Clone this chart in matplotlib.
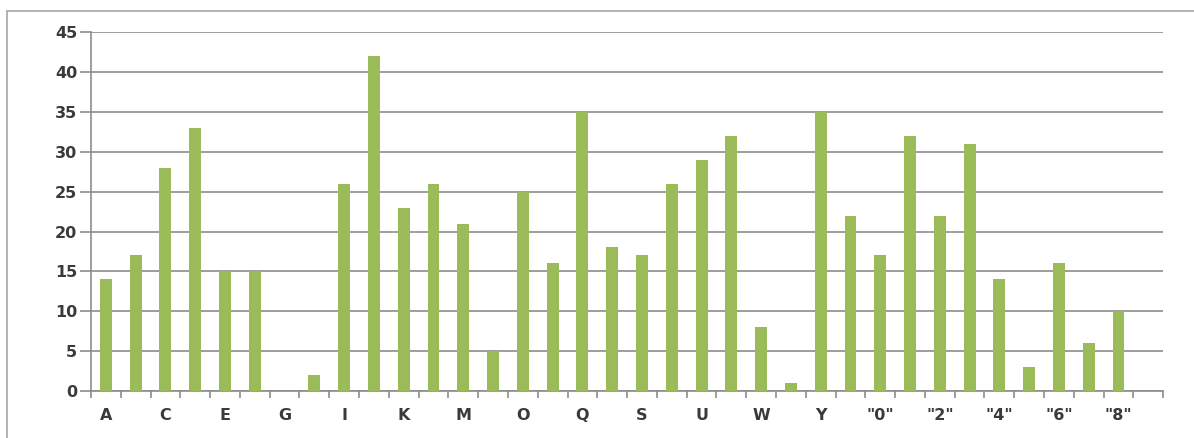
import numpy as np
import matplotlib
matplotlib.use("Agg")
import matplotlib.pyplot as plt
from matplotlib.patches import Rectangle

# categories: A-Z then "0"-"9"
categories = [chr(c) for c in range(ord("A"), ord("Z") + 1)] + ['"%d"' % d for d in range(10)]
values = [14, 17, 28, 33, 15, 15, 0, 2, 26, 42, 23, 26, 21, 5, 25, 16, 35, 18,
          17, 26, 29, 32, 8, 1, 35, 22, 17, 32, 22, 31, 14, 3, 16, 6, 10, 0]
y_ticks = [0, 5, 10, 15, 20, 25, 30, 35, 40, 45]

fig = plt.figure(figsize=(11.94, 4.38), dpi=100)
ax = fig.add_axes([0.0762, 0.107, 0.898, 0.820])

x = np.arange(len(categories))
ax.bar(x, values, width=0.4, color="#9BBB59", zorder=3)

ax.set_xlim(-0.5, len(categories) - 0.5)
ax.set_ylim(0, 45)
ax.set_yticks(y_ticks)
ax.yaxis.grid(True, color="#8c8c8c", linewidth=1.2, zorder=0)

# labels on every other category, tick marks between categories
ax.set_xticks(x[::2])
ax.set_xticklabels(categories[::2])
ax.set_xticks(np.arange(-0.5, len(categories)), minor=True)
ax.tick_params(axis="x", which="major", length=0, pad=12)
ax.tick_params(axis="x", which="minor", length=5, width=1.2, color="#8c8c8c")
ax.tick_params(axis="y", length=8, width=1.2, color="#8c8c8c", pad=2)

for lab in ax.get_xticklabels() + ax.get_yticklabels():
    lab.set_fontsize(11.5)
    lab.set_fontweight("bold")
    lab.set_color("#3a3a3a")

for side in ["top", "right"]:
    ax.spines[side].set_visible(False)
for side in ["left", "bottom"]:
    ax.spines[side].set_color("#8c8c8c")
    ax.spines[side].set_linewidth(1.2)

# outer chart frame
fig.patches.append(Rectangle((7 / 1194, -0.1), 1.2, 1 - 11 / 438 + 0.1,
                             transform=fig.transFigure, fill=False,
                             edgecolor="#a6a6a6", linewidth=1.2))

fig.savefig("out.png", dpi=100)
